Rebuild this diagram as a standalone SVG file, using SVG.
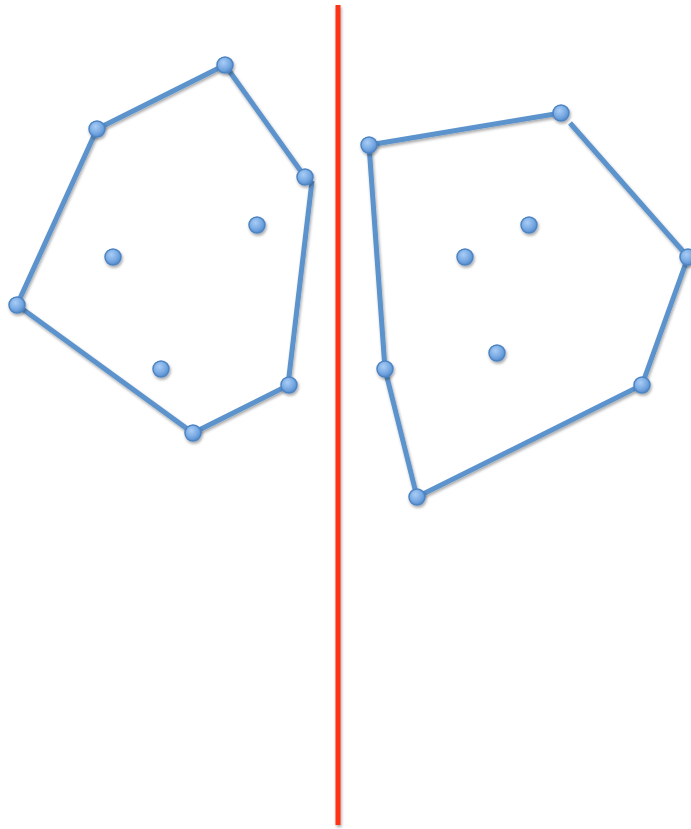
<svg xmlns="http://www.w3.org/2000/svg" width="691" height="829" viewBox="0 0 691 829">
<defs>
<radialGradient id="dotg" cx="0.4" cy="0.35" r="0.7">
<stop offset="0" stop-color="#a9cdf5"/>
<stop offset="0.6" stop-color="#76a8e2"/>
<stop offset="1" stop-color="#4f86c6"/>
</radialGradient>
<filter id="sh" filterUnits="userSpaceOnUse" x="0" y="0" width="691" height="829">
<feGaussianBlur in="SourceAlpha" stdDeviation="1.5"/>
<feOffset dx="1" dy="2" result="b"/>
<feComponentTransfer><feFuncA type="linear" slope="0.35"/></feComponentTransfer>
<feMerge><feMergeNode/><feMergeNode in="SourceGraphic"/></feMerge>
</filter>
</defs>
<style>
.edge{stroke:#5b93cc;stroke-width:5;fill:none;stroke-linecap:butt}
.dot{fill:url(#dotg);stroke:#4d84c4;stroke-width:1.5}
</style>
<rect width="691" height="829" fill="#ffffff"/>
<g id="divider" filter="url(#sh)">
<rect x="335.5" y="5" width="5" height="820" fill="#fe3316"/>
</g>
<g id="connectors" filter="url(#sh)">
<polyline class="edge" points="97,129 225,65 305,177"/>
<line class="edge" x1="312" y1="181" x2="288" y2="385"/>
<polyline class="edge" points="289,385 193,433 17,305 97,129"/>
<polyline class="edge" points="369,145 561,113"/>
<line class="edge" x1="570" y1="123" x2="688" y2="257"/>
<polyline class="edge" points="688,257 642,385 417,497 385,369 369,145"/>
</g>
<g id="nodes" filter="url(#sh)">
<g id="L1"><circle class="dot" cx="225" cy="65" r="8"/></g>
<g id="L2"><circle class="dot" cx="305" cy="177" r="8"/></g>
<g id="L3"><circle class="dot" cx="289" cy="385" r="8"/></g>
<g id="L4"><circle class="dot" cx="193" cy="433" r="8"/></g>
<g id="L5"><circle class="dot" cx="17" cy="305" r="8"/></g>
<g id="L6"><circle class="dot" cx="97" cy="129" r="8"/></g>
<g id="L7"><circle class="dot" cx="113" cy="257" r="8"/></g>
<g id="L8"><circle class="dot" cx="257" cy="225" r="8"/></g>
<g id="L9"><circle class="dot" cx="161" cy="369" r="8"/></g>
<g id="R1"><circle class="dot" cx="369" cy="145" r="8"/></g>
<g id="R2"><circle class="dot" cx="561" cy="113" r="8"/></g>
<g id="R3"><circle class="dot" cx="688" cy="257" r="8"/></g>
<g id="R4"><circle class="dot" cx="642" cy="385" r="8"/></g>
<g id="R5"><circle class="dot" cx="417" cy="497" r="8"/></g>
<g id="R6"><circle class="dot" cx="385" cy="369" r="8"/></g>
<g id="R7"><circle class="dot" cx="465" cy="257" r="8"/></g>
<g id="R8"><circle class="dot" cx="529" cy="225" r="8"/></g>
<g id="R9"><circle class="dot" cx="497" cy="353" r="8"/></g>
</g>
</svg>
